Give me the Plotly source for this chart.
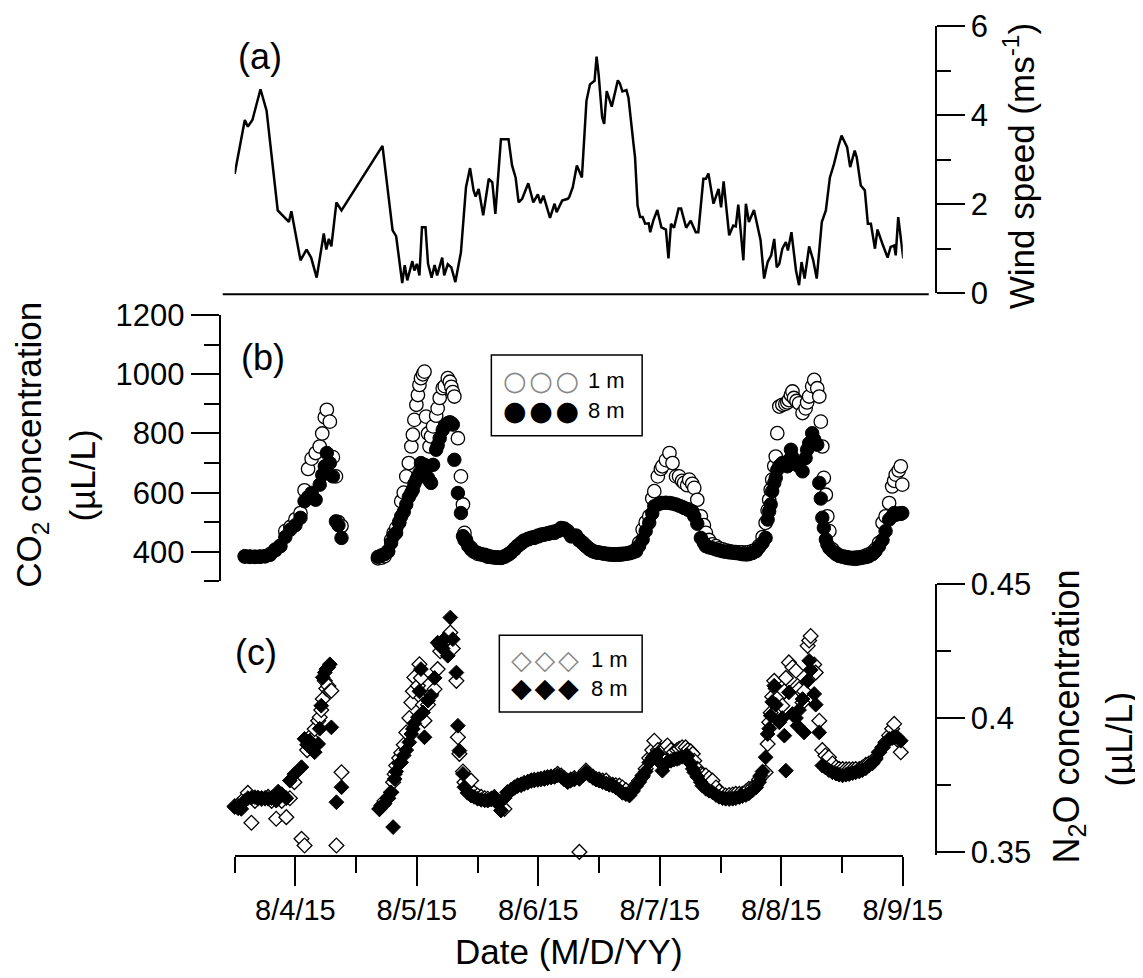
import pandas as pd
import plotly.graph_objects as go

# times are hours after 8/3/15 00:00
wind_hours = [12.0, 14.0, 14.6, 15.5, 17.1, 18.3, 20.5, 22.7, 23.2, 25.0,
              26.2, 27.1, 28.2, 29.6, 30.1, 30.6, 31.1, 32.1, 33.1, 41.2,
              43.2, 43.9, 45.1, 45.6, 46.1, 47.1, 47.5, 48.0, 48.5, 49.0,
              49.7, 50.2, 50.9, 51.5, 52.0, 53.0, 53.4, 54.1, 54.8, 55.6,
              56.7, 57.7, 58.5, 59.2, 59.6, 60.2, 61.1, 62.2, 62.9, 63.5,
              64.6, 66.1, 66.8, 67.5, 68.1, 68.8, 70.0, 71.0, 71.9, 72.4,
              73.0, 73.5, 74.3, 75.2, 75.6, 76.7, 77.8, 78.1, 78.8, 79.6,
              80.6, 81.5, 82.2, 83.1, 83.5, 83.9, 84.6, 85.0, 85.5, 86.5,
              87.7, 88.1, 88.6, 89.4, 89.8, 90.8, 91.1, 91.6, 92.1, 92.6,
              93.1, 93.8, 94.1, 94.7, 95.5, 96.3, 97.2, 97.7, 98.2, 98.8,
              99.7, 100.2, 101.2, 102.1, 103.1, 103.6, 104.6, 105.1, 105.6, 106.6,
              107.6, 108.1, 108.6, 109.7, 110.5, 111.0, 111.5, 112.5, 113.0, 113.6,
              114.6, 115.9, 116.6, 117.3, 118.0, 118.6, 119.1, 119.6, 120.2, 120.9,
              121.3, 122.0, 122.9, 123.5, 124.0, 124.6, 125.5, 126.3, 127.0, 128.0,
              128.8, 129.6, 130.4, 131.3, 131.9, 133.0, 133.6, 134.5, 134.9, 135.7,
              136.5, 137.1, 137.7, 138.5, 139.0, 140.1, 141.0, 141.6, 142.3, 142.6,
              143.1, 144.1]
wind_speed = [2.68, 3.89, 3.74, 3.89, 4.58, 4.10, 1.86, 1.60, 1.84, 0.74,
              0.98, 0.80, 0.35, 1.34, 0.98, 1.22, 1.05, 2.04, 1.86, 3.31,
              1.41, 1.28, 0.23, 0.63, 0.29, 0.72, 0.51, 0.66, 0.40, 1.48,
              1.48, 0.66, 0.35, 0.63, 0.40, 0.80, 0.40, 0.65, 0.58, 0.25,
              0.92, 2.38, 2.81, 2.31, 2.17, 2.34, 1.75, 2.57, 2.49, 1.78,
              3.46, 3.46, 2.87, 2.60, 2.04, 2.12, 2.47, 2.04, 2.22, 2.02,
              2.19, 2.01, 1.69, 2.01, 1.82, 2.08, 2.12, 2.16, 2.38, 2.87,
              2.60, 4.32, 4.69, 4.77, 5.31, 4.92, 3.95, 3.80, 4.54, 4.19,
              4.78, 4.71, 4.53, 4.56, 4.39, 3.35, 3.05, 1.97, 1.71, 1.71,
              1.56, 1.57, 1.37, 1.63, 1.87, 1.48, 1.43, 0.78, 1.56, 1.47,
              1.90, 1.90, 1.47, 1.63, 1.37, 1.37, 2.57, 2.57, 2.69, 2.01,
              2.34, 1.93, 2.51, 1.30, 1.52, 1.50, 1.99, 0.74, 2.01, 1.60,
              1.87, 1.19, 0.33, 0.70, 0.85, 1.22, 0.58, 0.66, 1.00, 1.15,
              0.96, 1.37, 0.51, 0.18, 0.70, 0.33, 1.05, 0.74, 0.33, 1.60,
              1.86, 2.60, 2.90, 3.31, 3.54, 3.28, 2.83, 3.20, 3.05, 2.42,
              2.31, 1.56, 1.56, 1.00, 1.43, 1.07, 0.80, 1.04, 1.07, 0.85,
              1.71, 0.78]

co2_hours = [14.0, 15.0, 16.0, 17.0, 18.0, 19.0, 20.0, 21.0, 22.0, 23.0,
             24.0, 25.0, 25.8, 26.5, 27.2, 28.0, 28.8, 29.3, 29.8, 30.2,
             30.8, 31.4, 32.0, 32.5, 33.1,
             40.3, 41.0, 41.6, 42.3, 42.9, 43.4, 43.9, 44.5, 44.9, 45.4,
             45.9, 46.4, 46.9, 47.2, 47.5, 47.9, 48.2, 48.5, 48.8, 49.2,
             49.5, 49.8, 50.2, 50.5, 50.8, 51.2, 51.8, 52.1, 52.5, 53.1,
             53.5, 54.1, 54.5, 54.8, 55.1, 55.4, 56.1, 56.7, 57.1, 57.4,
             57.7, 58.2, 58.7, 59.3, 60.0, 60.7, 61.4, 62.0, 62.7, 63.4,
             64.0, 64.6, 65.3, 66.0, 66.6, 67.3, 67.9, 68.6, 69.2, 70.0,
             70.6, 71.2, 72.0, 72.6, 73.2, 74.0, 74.6, 75.2, 75.9, 76.5,
             77.1, 77.8, 78.5, 79.4, 80.1, 80.8, 81.4, 82.1, 82.8, 83.4,
             84.0, 84.7, 85.4, 86.0, 86.7, 87.3, 88.0, 88.6, 89.3, 90.0,
             90.6, 91.3, 91.9, 92.6, 93.2, 93.9, 94.5, 94.9, 95.6, 96.2,
             96.5, 97.2, 97.9, 98.5, 99.2, 99.8, 100.4, 100.8, 101.4, 101.8,
             102.4, 102.8, 103.4, 104.1, 104.7, 105.1, 105.7, 106.4, 107.1, 107.7,
             108.4, 109.0, 109.7, 110.4, 111.0, 111.7, 112.3, 113.0, 113.6, 114.3,
             115.0, 115.6, 116.3, 116.9, 117.3, 117.6, 117.9, 118.2, 118.6, 118.9,
             119.2, 119.6, 120.2, 120.8, 121.2, 121.5, 121.9, 122.2, 122.5, 123.0,
             123.5, 124.2, 124.8, 125.1, 125.5, 126.1, 126.5, 127.1, 127.5, 127.8,
             128.1, 128.4, 128.8, 129.1, 129.5, 130.1, 130.8, 131.4, 132.1, 132.8,
             133.4, 134.1, 134.7, 135.4, 136.0, 136.7, 137.3, 138.0, 138.6, 139.3,
             140.0, 140.6, 141.3, 141.9, 142.3, 142.6, 143.2, 143.6, 143.9]
co2_1m = [384, 383, 383, 384, 385, 392, 405, 420, 470, 484,
          510, 531, 608, 680, 715, 734, 756, 800, 855, 880,
          840, 720, 655, 500, 487,
          378, 380, 385, 402, 440, 464, 480, 500, 571, 600,
          655, 700, 756, 796, 846, 897, 930, 964, 987, 1000,
          1009, 857, 800, 756, 790, 824, 860, 885, 920, 953,
          960, 987, 975, 958, 940, 925, 784, 655, 560, 464,
          440, 420, 413, 400, 393, 391, 388, 386, 383, 381,
          380, 380, 383, 390, 398, 410, 420, 430, 438, 444,
          447, 450, 455, 458, 460, 463, 466, 468, 472, 480,
          478, 470, 455, 455, 440, 430, 420, 410, 402, 398,
          397, 395, 393, 392, 391, 391, 392, 393, 394, 396,
          400, 408, 430, 475, 500, 520, 580, 605, 655, 680,
          689, 710, 734, 700, 655, 655, 640, 633, 625, 644,
          630, 616, 576, 520, 490, 464, 440, 425, 419, 412,
          408, 405, 402, 400, 399, 398, 398, 397, 399, 402,
          408, 420, 450, 498, 540, 576, 610, 644, 690, 722,
          801, 891, 897, 900, 905, 913, 930, 942, 920, 910,
          902, 869, 885, 905, 925, 960, 981, 953, 925, 840,
          756, 650, 593, 520, 470, 408, 395, 388, 385, 382,
          380, 379, 380, 381, 383, 387, 391, 398, 408, 430,
          498, 520, 565, 621, 640, 661, 675, 689, 627]
co2_8m = [385, 384, 383, 383, 385, 390, 408, 419, 450, 475,
          490, 515, 571, 585, 599, 576, 627, 660, 689, 734,
          700, 655, 503, 490, 447,
          383, 388, 392, 402, 430, 455, 464, 498, 520, 535,
          560, 585, 600, 610, 630, 644, 655, 666, 700, 690,
          694, 680, 650, 640, 633, 694, 745, 760, 784, 812,
          825, 835, 838, 835, 830, 711, 599, 531, 453, 440,
          436, 420, 408, 402, 397, 392, 390, 383, 382, 381,
          380, 379, 385, 392, 397, 408, 419, 428, 436, 442,
          446, 447, 452, 456, 458, 461, 464, 464, 470, 478,
          476, 468, 452, 453, 438, 428, 418, 408, 402, 399,
          397, 395, 393, 391, 390, 390, 390, 391, 393, 395,
          398, 402, 420, 442, 470, 498, 530, 554, 560, 565,
          565, 566, 565, 563, 560, 556, 552, 548, 545, 540,
          537, 520, 495, 447, 430, 419, 415, 412, 408, 405,
          402, 400, 398, 397, 396, 394, 392, 391, 392, 396,
          402, 415, 430, 447, 509, 537, 560, 605, 633, 650,
          677, 690, 700, 695, 689, 710, 745, 720, 706, 695,
          689, 672, 717, 745, 767, 801, 780, 762, 633, 580,
          515, 481, 442, 425, 412, 402, 392, 386, 383, 380,
          378, 377, 376, 378, 380, 382, 385, 392, 402, 419,
          440, 470, 509, 520, 531, 525, 530, 528, 531]

n2o_hours = [12.0, 12.7, 13.3, 14.0, 14.6, 15.3, 16.0, 16.6, 17.3, 18.0,
             18.6, 19.3, 20.2, 20.6, 21.3, 22.2, 22.9, 23.8, 25.2, 25.8,
             26.3, 26.8, 27.4, 27.8, 28.5, 28.8, 29.1, 29.4, 29.8, 30.1,
             30.5, 30.8, 31.1, 32.1, 33.1,
             40.6, 41.0, 41.6, 42.3, 42.9, 43.3, 43.6, 43.9, 44.5, 44.9,
             45.4, 45.9, 46.5, 46.9, 47.2, 47.5, 48.2, 48.5, 48.8, 49.2,
             49.5, 50.2, 50.8, 51.5, 52.1, 52.6, 53.1, 53.4, 54.1, 54.6,
             55.1, 55.8, 56.1, 56.4, 57.1, 57.4, 58.0, 58.7, 59.3, 60.0,
             60.7, 61.4, 62.0, 62.7, 63.3, 64.0, 64.6, 65.3, 65.9, 66.6,
             67.3, 67.9, 68.6, 69.2, 69.9, 70.6, 71.2, 71.9, 72.5, 73.2,
             73.8, 74.5, 75.2, 75.8, 76.5, 77.1, 77.8, 78.4, 79.1, 80.1,
             80.8, 81.4, 82.1, 82.8, 83.4, 84.0, 84.7, 85.4, 86.0, 86.7,
             87.3, 88.0, 88.6, 89.3, 90.0, 90.6, 91.3, 91.9, 92.6, 93.2,
             93.9, 94.5, 94.9, 95.6, 96.2, 96.5, 97.2, 97.5, 98.2, 98.8,
             99.4, 99.8, 100.4, 101.1, 101.5, 102.1, 102.5, 102.8, 103.4, 104.1,
             104.4, 105.1, 105.7, 106.4, 107.1, 107.7, 108.4, 109.0, 109.7, 110.4,
             111.0, 111.7, 112.3, 113.0, 113.6, 114.3, 115.0, 115.6, 115.9, 116.3,
             116.9, 117.3, 117.6, 117.9, 118.2, 118.6, 118.9, 119.6, 120.2, 120.6,
             120.9, 121.5, 122.2, 122.9, 123.2, 123.5, 124.2, 124.5, 125.2, 125.5,
             125.8, 126.5, 126.8, 127.5, 128.1, 128.7, 129.4, 130.1, 130.8, 131.4,
             132.1, 132.8, 133.4, 134.1, 134.7, 135.4, 136.0, 136.7, 137.3, 138.0,
             138.6, 139.3, 140.0, 140.6, 141.3, 141.9, 142.3, 142.9, 143.6, 144.2]
n2o_1m = [0.3670, 0.3675, 0.3679, 0.3700, 0.3720, 0.3608, 0.3690, 0.3700, 0.3698, 0.3700,
          0.3705, 0.3690, 0.3623, 0.3700, 0.3690, 0.3629, 0.3700, 0.3760, 0.3548, 0.3523,
          0.3880, 0.3928, 0.3920, 0.3959, 0.3990, 0.4003, 0.4030, 0.4071, 0.4139, 0.4110,
          0.4120, 0.4100, 0.4102, 0.3523, 0.3797,
          0.3660, 0.3673, 0.3690, 0.3700, 0.3722, 0.3760, 0.3790, 0.3822, 0.3850, 0.3870,
          0.3900, 0.3946, 0.4000, 0.4058, 0.4100, 0.4152, 0.4121, 0.4201, 0.4150, 0.4050,
          0.3990, 0.4050, 0.4090, 0.4108, 0.4183, 0.4250, 0.4282, 0.4290, 0.4300, 0.4320,
          0.4260, 0.4139, 0.3928, 0.3866, 0.3800, 0.3760, 0.3740, 0.3766, 0.3720, 0.3710,
          0.3705, 0.3700, 0.3698, 0.3698, 0.3704, 0.3690, 0.3670, 0.3660, 0.3722, 0.3730,
          0.3740, 0.3747, 0.3750, 0.3755, 0.3760, 0.3766, 0.3768, 0.3770, 0.3772, 0.3775,
          0.3778, 0.3780, 0.3782, 0.3791, 0.3785, 0.3775, 0.3765, 0.3770, 0.3775, 0.3499,
          0.3790, 0.3803, 0.3790, 0.3780, 0.3772, 0.3770, 0.3766, 0.3766, 0.3755, 0.3750,
          0.3748, 0.3747, 0.3740, 0.3730, 0.3720, 0.3730, 0.3750, 0.3765, 0.3785, 0.3810,
          0.3850, 0.3880, 0.3915, 0.3880, 0.3878, 0.3870, 0.3890, 0.3897, 0.3880, 0.3872,
          0.3880, 0.3885, 0.3890, 0.3890, 0.3880, 0.3875, 0.3866, 0.3840, 0.3810, 0.3790,
          0.3785, 0.3785, 0.3775, 0.3766, 0.3740, 0.3725, 0.3715, 0.3710, 0.3712, 0.3714,
          0.3716, 0.3716, 0.3716, 0.3725, 0.3735, 0.3740, 0.3747, 0.3770, 0.3780, 0.3790,
          0.3797, 0.3903, 0.3984, 0.4020, 0.4080, 0.4139, 0.4110, 0.4080, 0.4046, 0.4100,
          0.4150, 0.4208, 0.4190, 0.4177, 0.4120, 0.4108, 0.4058, 0.4100, 0.4270, 0.4290,
          0.4307, 0.4200, 0.4170, 0.3990, 0.3880, 0.3860, 0.3853, 0.3830, 0.3815, 0.3810,
          0.3809, 0.3808, 0.3808, 0.3808, 0.3809, 0.3809, 0.3815, 0.3825, 0.3830, 0.3834,
          0.3850, 0.3872, 0.3890, 0.3909, 0.3935, 0.3960, 0.3978, 0.3920, 0.3872, 0.3880]
n2o_8m = [0.3667, 0.3662, 0.3660, 0.3690, 0.3700, 0.3702, 0.3704, 0.3702, 0.3700, 0.3700,
          0.3698, 0.3700, 0.3691, 0.3725, 0.3715, 0.3700, 0.3766, 0.3790, 0.3816, 0.3922,
          0.3900, 0.3915, 0.3890, 0.3872, 0.3903, 0.3960, 0.4046, 0.4152, 0.4170, 0.4183,
          0.4190, 0.4201, 0.3965, 0.3685, 0.3741,
          0.3660, 0.3670, 0.3679, 0.3700, 0.3722, 0.3592, 0.3772, 0.3800, 0.3830, 0.3834,
          0.3860, 0.3880, 0.3909, 0.3940, 0.3959, 0.3980, 0.4003, 0.4100, 0.4183, 0.4021,
          0.3928, 0.4065, 0.4083, 0.4150, 0.4282, 0.4270, 0.4260, 0.4295, 0.4233, 0.4376,
          0.4295, 0.4170, 0.3971, 0.3878, 0.3791, 0.3741, 0.3720, 0.3710, 0.3705, 0.3698,
          0.3694, 0.3692, 0.3691, 0.3695, 0.3704, 0.3680, 0.3654, 0.3700, 0.3722, 0.3730,
          0.3740, 0.3747, 0.3752, 0.3758, 0.3762, 0.3766, 0.3768, 0.3770, 0.3772, 0.3772,
          0.3775, 0.3778, 0.3780, 0.3785, 0.3780, 0.3770, 0.3760, 0.3766, 0.3770, 0.3772,
          0.3785, 0.3797, 0.3785, 0.3776, 0.3770, 0.3766, 0.3760, 0.3755, 0.3750, 0.3747,
          0.3740, 0.3730, 0.3720, 0.3715, 0.3710, 0.3725, 0.3745, 0.3760, 0.3780, 0.3800,
          0.3834, 0.3850, 0.3860, 0.3866, 0.3830, 0.3803, 0.3830, 0.3834, 0.3840, 0.3845,
          0.3847, 0.3850, 0.3855, 0.3859, 0.3859, 0.3830, 0.3810, 0.3797, 0.3780, 0.3760,
          0.3747, 0.3735, 0.3728, 0.3722, 0.3712, 0.3705, 0.3700, 0.3698, 0.3697, 0.3698,
          0.3700, 0.3704, 0.3708, 0.3712, 0.3718, 0.3729, 0.3740, 0.3760, 0.3785, 0.3800,
          0.3853, 0.3940, 0.3960, 0.4009, 0.4060, 0.4121, 0.4050, 0.3984, 0.4000, 0.3934,
          0.3803, 0.4096, 0.4015, 0.4000, 0.3971, 0.4030, 0.4071, 0.3946, 0.4139, 0.4214,
          0.4180, 0.4090, 0.4050, 0.3946, 0.3822, 0.3815, 0.3805, 0.3797, 0.3792, 0.3788,
          0.3785, 0.3788, 0.3790, 0.3794, 0.3797, 0.3800, 0.3805, 0.3812, 0.3822, 0.3830,
          0.3845, 0.3872, 0.3890, 0.3905, 0.3922, 0.3925, 0.3928, 0.3928, 0.3915, 0.3909]

START = pd.Timestamp("2015-08-03")
# the page is photographed a little smaller and offset, so layout positions
# below are written in picture pixels and mapped back into the figure
SCALE, OX, OY = 0.967, 8, 24
W, H = 1166, 978
FONT = "Liberation Sans, Arial, sans-serif"


def when(hours):
    return START + pd.to_timedelta(hours, unit="h")


def px(x):
    return (x - OX) / SCALE / W


def py(y):
    return 1 - (y - OY) / SCALE / H


def size(v):
    return v / SCALE


fig = go.Figure()

# (a) wind
fig.add_trace(go.Scatter(x=when(wind_hours), y=wind_speed, mode="lines",
                         line=dict(color="black", width=2.5),
                         xaxis="x3", yaxis="y"))

# (b) CO2, 1 m under 8 m
fig.add_trace(go.Scatter(x=when(co2_hours), y=co2_1m, mode="markers",
                         marker=dict(symbol="circle", size=size(13), color="white",
                                     line=dict(color="black", width=1.3)),
                         cliponaxis=False, xaxis="x2", yaxis="y2"))
fig.add_trace(go.Scatter(x=when(co2_hours), y=co2_8m, mode="markers",
                         marker=dict(symbol="circle", size=size(13), color="black",
                                     line=dict(color="black", width=1)),
                         cliponaxis=False, xaxis="x2", yaxis="y2"))

# (c) N2O
fig.add_trace(go.Scatter(x=when(n2o_hours), y=n2o_1m, mode="markers",
                         marker=dict(symbol="diamond", size=size(11), color="white",
                                     line=dict(color="black", width=1.3)),
                         cliponaxis=False, xaxis="x", yaxis="y3"))
fig.add_trace(go.Scatter(x=when(n2o_hours), y=n2o_8m, mode="markers",
                         marker=dict(symbol="diamond", size=size(11), color="black",
                                     line=dict(color="black", width=1)),
                         cliponaxis=False, xaxis="x", yaxis="y3"))

xdom = [px(235), px(904)]
xrange = [START + pd.Timedelta(hours=12), START + pd.Timedelta(hours=144)]

axis_style = dict(showline=True, linecolor="black", linewidth=2, ticks="outside",
                  tickcolor="black", tickwidth=2, showgrid=False, zeroline=False)
yfont = dict(family=FONT, size=31, color="black")
major, minor_len = size(27), size(14)

fig.update_layout(
    width=W, height=H,
    margin=dict(l=0, r=0, t=0, b=0),
    paper_bgcolor="white", plot_bgcolor="rgba(0,0,0,0)",
    showlegend=False,
    font=dict(family=FONT, color="black"),
    xaxis=dict(domain=xdom, range=xrange, anchor="y3", type="date",
               tick0="2015-08-04", dtick=86400000, tickformat="%-m/%-d/%y",
               ticklen=size(28), tickfont=dict(family=FONT, size=29, color="black"),
               minor=dict(dtick=43200000, tick0="2015-08-03", ticks="outside",
                          ticklen=size(16), tickwidth=2, tickcolor="black"),
               **axis_style),
    xaxis2=dict(domain=xdom, matches="x", anchor="y2", visible=False),
    xaxis3=dict(domain=xdom, matches="x", anchor="y", visible=False),
    yaxis=dict(domain=[py(293), py(25)], range=[0, 6], anchor="free",
               position=px(937), side="right", tick0=0, dtick=2, ticklen=major,
               tickfont=yfont,
               minor=dict(dtick=1, ticks="outside", ticklen=minor_len, tickwidth=2,
                          tickcolor="black"),
               **axis_style),
    yaxis2=dict(domain=[py(582), py(315)], range=[300, 1200], anchor="free",
                position=px(220), side="left", tick0=0, dtick=200, ticklen=major,
                tickfont=yfont,
                minor=dict(dtick=100, ticks="outside", ticklen=minor_len, tickwidth=2,
                           tickcolor="black"),
                **axis_style),
    yaxis3=dict(domain=[py(856), py(585)], range=[0.3489, 0.45], anchor="free",
                position=px(937), side="right", tick0=0.35, dtick=0.05, ticklen=major,
                tickfont=yfont,
                minor=dict(dtick=0.025, ticks="outside", ticklen=minor_len, tickwidth=2,
                           tickcolor="black"),
                **axis_style),
)

# bottom rule of panel (a)
fig.add_shape(type="line", xref="paper", yref="paper",
              x0=px(223), x1=px(930), y0=py(294), y1=py(294),
              line=dict(color="black", width=2))

# legend boxes
for x0, y0, x1, y1 in [(492, 355, 643, 436), (500, 636, 643, 713)]:
    fig.add_shape(type="rect", xref="paper", yref="paper",
                  x0=px(x0), x1=px(x1), y0=py(y0), y1=py(y1),
                  line=dict(color="black", width=1.5))


def note(text, x, y, fsize, angle=0, xanchor="center", family=FONT, color="black"):
    fig.add_annotation(text=text, x=px(x), y=py(y), xref="paper", yref="paper",
                       showarrow=False, textangle=angle, xanchor=xanchor,
                       yanchor="middle", font=dict(family=family, size=fsize, color=color))


SYM = "DejaVu Sans"
GAP = "\u200a"
note(GAP.join("\u25cb" * 3), 542, 381, 27, family=SYM, color="#888888")
note(GAP.join("\u25cf" * 3), 542, 411, 27, family=SYM)
note("1 m", 587, 381, 22, xanchor="left")
note("8 m", 587, 411, 22, xanchor="left")
note(GAP.join("\u25c7" * 3), 546, 660, 27, family=SYM, color="#888888")
note(GAP.join("\u25c6" * 3), 546, 688, 27, family=SYM)
note("1 m", 590, 660, 22, xanchor="left")
note("8 m", 590, 689, 22, xanchor="left")

note("(a)", 260, 56, 36)
note("(b)", 263, 357, 36)
note("(c)", 256, 653, 36)

note("Wind speed (ms<sup>-1</sup>)", 1020, 166, 35, angle=-90)
note("CO<sub>2</sub> concentration", 31, 445, 35, angle=-90)
note("(\u00b5L/L)", 83, 476, 35, angle=-90)
note("N<sub>2</sub>O concentration", 1070, 718, 36, angle=-90)
note("(\u00b5L/L)", 1121, 740, 36, angle=-90)
note("Date (M/D/YY)", 570, 953, 35)

fig.write_html("out.html")
